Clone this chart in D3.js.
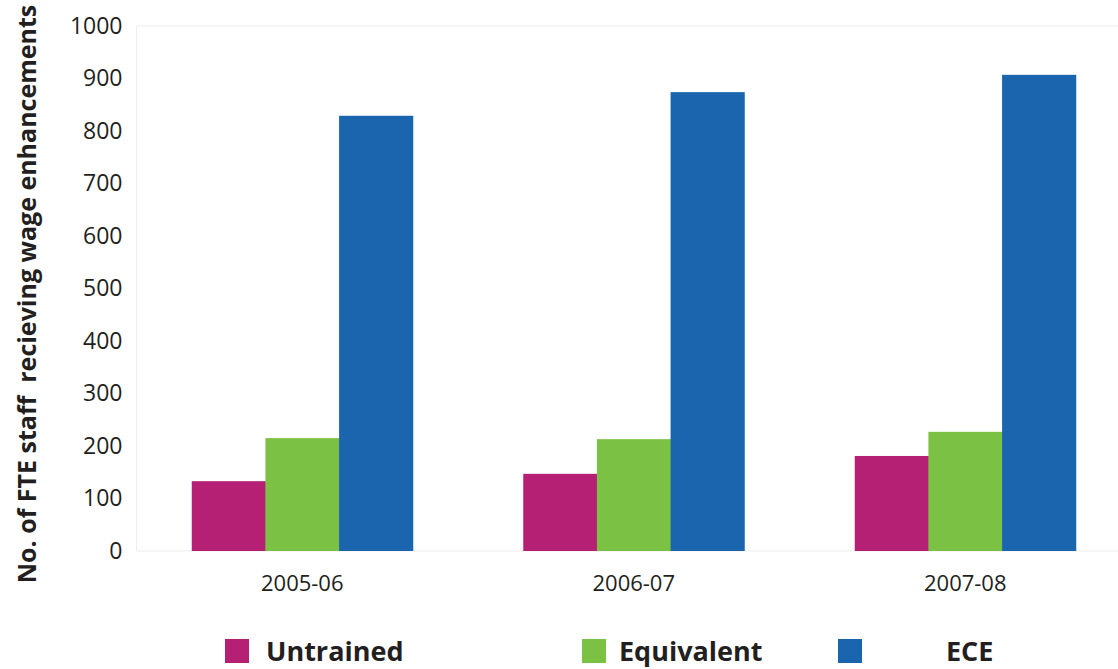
<!DOCTYPE html>
<html><head><meta charset="utf-8">
<script src="https://cdn.jsdelivr.net/npm/d3@7"></script>
<style>
html,body{margin:0;padding:0;background:#fff;}
svg{display:block;}
text{font-family:"Open Sans","Noto Sans",sans-serif;fill:#231f20;}
</style></head>
<body>
<svg id="chart" width="1118" height="669"></svg>
<script>
const categories = ["2005-06", "2006-07", "2007-08"];
const seriesNames = ["Untrained", "Equivalent", "ECE"];
const untrained = [133, 147, 181];
const equivalent = [215, 213, 227];
const ece = [829, 874, 907];
const yTicks = [0, 100, 200, 300, 400, 500, 600, 700, 800, 900, 1000];
const colors = ["#b51f74", "#7bc143", "#1a65ae"];
const yTitle = "No. of FTE staff  recieving wage enhancements";

const series = [untrained, equivalent, ece];
const svg = d3.select("#chart");
const plotLeft = 136.5, plotTop = 26, plotBottom = 551, plotRight = 1131;

const x = d3.scaleBand().domain(categories).range([plotLeft, plotRight]).paddingInner(1/3).paddingOuter(1/6);
const xs = d3.scaleBand().domain(seriesNames).range([0, x.bandwidth()]);
const y = d3.scaleLinear().domain([0, 1000]).range([plotBottom, plotTop]);

// frame
const frame = svg.append("g").attr("stroke", "#eeeeee").attr("stroke-width", 1.2).attr("fill", "none");
frame.append("line").attr("x1", plotLeft).attr("x2", 1118).attr("y1", y(1000)).attr("y2", y(1000));
frame.append("line").attr("x1", plotLeft).attr("x2", plotLeft).attr("y1", y(1000)).attr("y2", y(0));
frame.append("line").attr("x1", plotLeft).attr("x2", 1118).attr("y1", y(0)).attr("y2", y(0));

// bars
const groups = svg.append("g").selectAll("g").data(categories).join("g")
  .attr("transform", d => `translate(${x(d)},0)`);
groups.selectAll("rect").data((c, i) => seriesNames.map((s, j) => ({s, j, v: series[j][i]})))
  .join("rect")
  .attr("x", d => xs(d.s))
  .attr("width", xs.bandwidth() + 0.5)
  .attr("y", d => y(d.v))
  .attr("height", d => y(0) - y(d.v))
  .attr("fill", d => colors[d.j]);

// y axis
const yAxis = d3.axisLeft(y).tickValues(yTicks).tickFormat(d3.format("d")).tickSize(0).tickPadding(14);
const ya = svg.append("g").attr("transform", `translate(${plotLeft},0)`).call(yAxis);
ya.select(".domain").remove();
ya.selectAll("text").attr("font-size", 23).attr("font-family", '"Open Sans",sans-serif').attr("fill", "#231f20");

// x axis
const xAxis = d3.axisBottom(x).tickSize(0).tickPadding(24);
const xa = svg.append("g").attr("transform", `translate(0,${plotBottom})`).call(xAxis);
xa.select(".domain").remove();
xa.selectAll("text").attr("font-size", 22).attr("font-family", '"Open Sans",sans-serif').attr("fill", "#231f20");

// y title
svg.append("text")
  .attr("transform", `translate(36,294) rotate(-90)`)
  .attr("text-anchor", "middle")
  .attr("font-weight", "bold")
  .attr("font-size", 25)
  .style("white-space", "pre")
  .text(yTitle);

// legend
const legX = [225, 582, 838];
const legTextX = [266, 619, 946];
const leg = svg.append("g").selectAll("g").data(seriesNames).join("g");
leg.append("rect")
  .attr("x", (d, i) => legX[i]).attr("y", 639).attr("width", 24).attr("height", 24)
  .attr("fill", (d, i) => colors[i]);
leg.append("text")
  .attr("x", (d, i) => legTextX[i]).attr("y", 661)
  .attr("font-weight", "bold").attr("font-size", 27)
  .text(d => d);
</script>
</body></html>
